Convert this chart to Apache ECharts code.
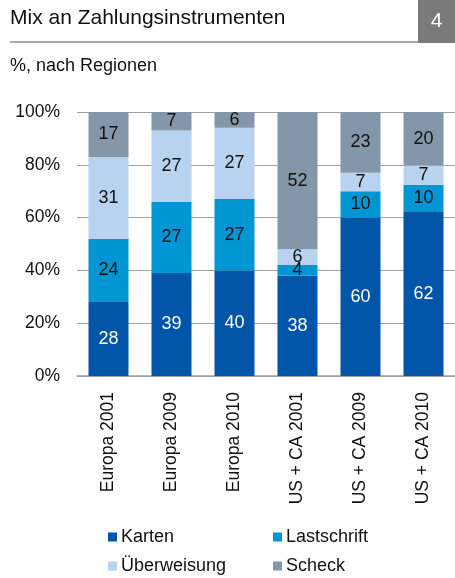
<!DOCTYPE html>
<html>
<head>
<meta charset="utf-8">
<script src="https://cdn.jsdelivr.net/npm/echarts@6/dist/echarts.min.js"></script>
<style>
  html, body { margin: 0; padding: 0; background: #fff; }
  #chart { width: 455px; height: 578px; }
</style>
</head>
<body>
<div id="chart"></div>
<script>
// Daten
const categories = ['Europa 2001', 'Europa 2009', 'Europa 2010', 'US + CA 2001', 'US + CA 2009', 'US + CA 2010']
const karten = [28, 39, 40, 38, 60, 62.4]
const lastschrift = [24, 27, 27, 4, 10, 10]
const ueberweisung = [31, 27, 27, 6, 7, 7.3]
const scheck = [17, 7, 6, 52, 23, 20.3]
const yTicks = [0, 20, 40, 60, 80, 100]

const FONT = '"Liberation Sans", Arial, sans-serif'
const colors = ['#0055A8', '#0095D3', '#B7D3EF', '#8497AA']

const chart = echarts.init(document.getElementById('chart'))

const mkSeries = (name, data, color, labelColor) => ({
  name: name,
  type: 'bar',
  stack: 'total',
  barWidth: 40,
  data: data,
  itemStyle: { color: color },
  label: {
    show: true,
    position: 'inside',
    color: labelColor,
    fontFamily: FONT,
    fontSize: 18,
    formatter: p => Math.round(p.value)
  }
})

const mkLegend = (name, left, top) => ({
  data: [name],
  left: left,
  top: top,
  icon: 'rect',
  itemWidth: 9,
  itemHeight: 9,
  itemGap: 0,
  padding: 0,
  selectedMode: false,
  textStyle: { fontFamily: FONT, fontSize: 18, color: '#111', padding: [0, 0, 0, -1] }
})

const option = {
  animation: false,
  backgroundColor: '#fff',
  color: colors,
  graphic: [
    { type: 'text', left: 10, top: 8, style: { text: 'Mix an Zahlungsinstrumenten', font: '21px ' + FONT, fill: '#111' } },
    { type: 'line', shape: { x1: 10, y1: 42, x2: 418, y2: 42 }, style: { stroke: '#8c8c8c', lineWidth: 1.5 } },
    { type: 'rect', shape: { x: 418, y: 0, width: 37, height: 43 }, style: { fill: '#7a7a7a' } },
    { type: 'text', x: 436.5, y: 21, style: { text: '4', font: '21px ' + FONT, fill: '#fff', align: 'center', verticalAlign: 'middle' } },
    { type: 'text', left: 10, top: 57, style: { text: '%, nach Regionen', font: '18px ' + FONT, fill: '#111' } }
  ],
  legend: [
    mkLegend('Karten', 108, 528),
    mkLegend('Lastschrift', 273, 528),
    mkLegend('Überweisung', 108, 557),
    mkLegend('Scheck', 273, 557)
  ],
  grid: { left: 77, top: 112, width: 381, height: 264, containLabel: false },
  xAxis: {
    type: 'category',
    data: categories,
    axisLine: { lineStyle: { color: '#a0a0a0', width: 1.5 } },
    axisTick: { show: false },
    axisLabel: { rotate: 90, margin: 16, fontFamily: FONT, fontSize: 17.5, color: '#111' }
  },
  yAxis: {
    type: 'value',
    min: yTicks[0],
    max: yTicks[yTicks.length - 1],
    interval: 20,
    axisLine: { show: false },
    axisTick: { show: false },
    splitLine: { lineStyle: { color: '#a0a0a0', width: 1 } },
    axisLabel: { formatter: '{value}%', margin: 17, fontFamily: FONT, fontSize: 17.5, color: '#111' }
  },
  series: [
    mkSeries('Karten', karten, colors[0], '#fff'),
    mkSeries('Lastschrift', lastschrift, colors[1], '#111'),
    mkSeries('Überweisung', ueberweisung, colors[2], '#111'),
    mkSeries('Scheck', scheck, colors[3], '#111')
  ]
}

chart.setOption(option)
</script>
</body>
</html>
